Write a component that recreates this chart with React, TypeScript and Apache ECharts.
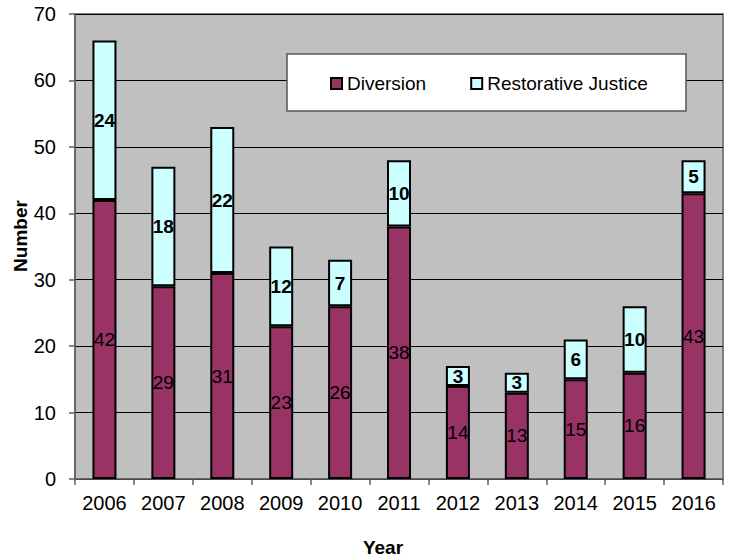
import React, { useEffect, useRef } from "react";
import * as echarts from "echarts";

const years = ["2006", "2007", "2008", "2009", "2010", "2011", "2012", "2013", "2014", "2015", "2016"];
const diversion = [42, 29, 31, 23, 26, 38, 14, 13, 15, 16, 43];
const restorative = [24, 18, 22, 12, 7, 10, 3, 3, 6, 10, 5];
const yTicks = { min: 0, max: 70, interval: 10 };

const FONT = "'Liberation Sans', Arial, sans-serif";

export default function App() {
  const ref = useRef<HTMLDivElement>(null);

  useEffect(() => {
    if (!ref.current) return;
    const chart = echarts.init(ref.current, undefined, { renderer: "svg" });
    const barBorder = { borderColor: "#000", borderWidth: 2 };
    chart.setOption({
      animation: false,
      backgroundColor: "#fff",
      textStyle: { fontFamily: FONT },
      grid: {
        left: 75,
        right: 12,
        top: 14,
        bottom: 80,
        show: true,
        backgroundColor: "#C0C0C0",
        borderColor: "#808080",
        borderWidth: 2,
      },
      legend: {
        left: 330,
        top: 74,
        padding: 0,
        z: 6,
        itemWidth: 11,
        itemHeight: 11,
        itemGap: 44,
        icon: "rect",
        textStyle: { fontFamily: FONT, fontSize: 19, color: "#000" },
        data: ["Diversion", "Restorative Justice"],
      },
      graphic: [
        {
          type: "rect",
          z: 5,
          shape: { x: 287, y: 54, width: 399, height: 57 },
          style: { fill: "#fff", stroke: "#555", lineWidth: 1.5 },
        },
        {
          type: "text",
          x: 20,
          y: 236,
          rotation: Math.PI / 2,
          style: {
            text: "Number",
            font: `bold 19px ${FONT}`,
            fill: "#000",
            align: "center",
            verticalAlign: "middle",
          },
        },
        {
          type: "text",
          x: 383,
          y: 547,
          style: {
            text: "Year",
            font: `bold 19px ${FONT}`,
            fill: "#000",
            align: "center",
            verticalAlign: "middle",
          },
        },
      ],
      xAxis: {
        type: "category",
        data: years,
        boundaryGap: true,
        axisLine: { lineStyle: { color: "#606060", width: 1.5 } },
        axisTick: { show: true, alignWithLabel: false, length: 6, lineStyle: { color: "#606060", width: 1.5 } },
        axisLabel: { color: "#000", fontSize: 20, margin: 14, fontFamily: FONT },
      },
      yAxis: {
        type: "value",
        min: yTicks.min,
        max: yTicks.max,
        interval: yTicks.interval,
        axisLine: { show: true, lineStyle: { color: "#606060", width: 1.5 } },
        axisTick: { show: true, length: 6, lineStyle: { color: "#606060", width: 1.5 } },
        axisLabel: { color: "#000", fontSize: 20, margin: 19, fontFamily: FONT },
        splitLine: { lineStyle: { color: "#000", width: 1 } },
      },
      series: [
        {
          name: "Diversion",
          type: "bar",
          stack: "total",
          barWidth: 24,
          data: diversion,
          itemStyle: { color: "#993366", ...barBorder },
          label: {
            show: true,
            position: "inside",
            color: "#000",
            fontSize: 19,
            fontFamily: FONT,
          },
        },
        {
          name: "Restorative Justice",
          type: "bar",
          stack: "total",
          barWidth: 24,
          data: restorative,
          itemStyle: { color: "#CCFFFF", ...barBorder },
          label: {
            show: true,
            position: "inside",
            color: "#000",
            fontSize: 19,
            fontWeight: "bold",
            fontFamily: FONT,
          },
        },
      ],
    });
    return () => chart.dispose();
  }, []);

  return (
    <div
      ref={ref}
      style={{ position: "fixed", left: 0, top: 0, width: 735, height: 559 }}
    />
  );
}
